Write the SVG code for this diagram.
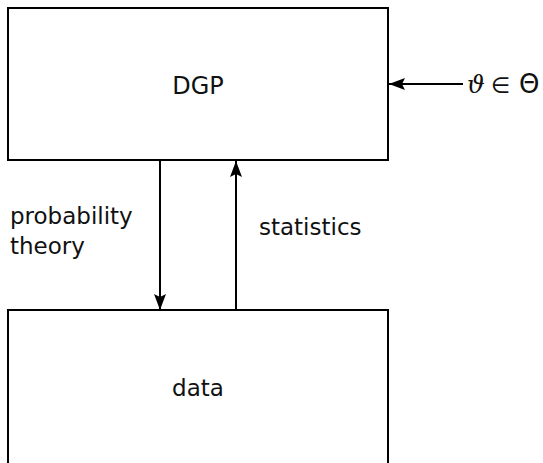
<svg xmlns="http://www.w3.org/2000/svg" width="543" height="463" viewBox="0 0 543 463">
  <defs>
    <style>
      .box { fill: #fff; stroke: #000; stroke-width: 2; }
      .wire { fill: none; stroke: #000; stroke-width: 2; }
      .lbl { font-family: "DejaVu Sans", "Liberation Sans", sans-serif; font-size: 23px; fill: #111; }
      .math { font-family: "DejaVu Serif", "Liberation Serif", serif; font-size: 25px; fill: #111; }
    </style>
    <marker id="tip" markerUnits="userSpaceOnUse" markerWidth="16" markerHeight="12" viewBox="0 0 16 12" refX="16" refY="6" orient="auto">
      <path d="M0,0 L16,6 L0,12 L3,6 Z" fill="#000"/>
    </marker>
  </defs>

  <g id="dgp">
    <rect class="box" x="8" y="8" width="380" height="152"/>
    <text class="lbl" x="198" y="94" text-anchor="middle" style="font-size:24px">DGP</text>
  </g>

  <g id="data">
    <rect class="box" x="8" y="310" width="380" height="200"/>
    <text class="lbl" x="198" y="396" text-anchor="middle">data</text>
  </g>

  <g id="connectors">
    <line class="wire" x1="160" y1="160" x2="160" y2="310" marker-end="url(#tip)"/>
    <line class="wire" x1="236" y1="310" x2="236" y2="161" marker-end="url(#tip)"/>
    <line class="wire" x1="463" y1="84" x2="389" y2="84" marker-end="url(#tip)"/>
  </g>

  <g id="labels">
    <text class="math" y="93"><tspan x="467" font-style="italic">ϑ</tspan><tspan x="491" font-family="DejaVu Sans, sans-serif" font-size="22">∈</tspan><tspan x="519" font-family="DejaVu Sans, sans-serif" font-size="26">Θ</tspan></text>
    <text class="lbl" x="10" y="224">probability</text>
    <text class="lbl" x="10" y="254">theory</text>
    <text class="lbl" x="259" y="235">statistics</text>
  </g>
</svg>
